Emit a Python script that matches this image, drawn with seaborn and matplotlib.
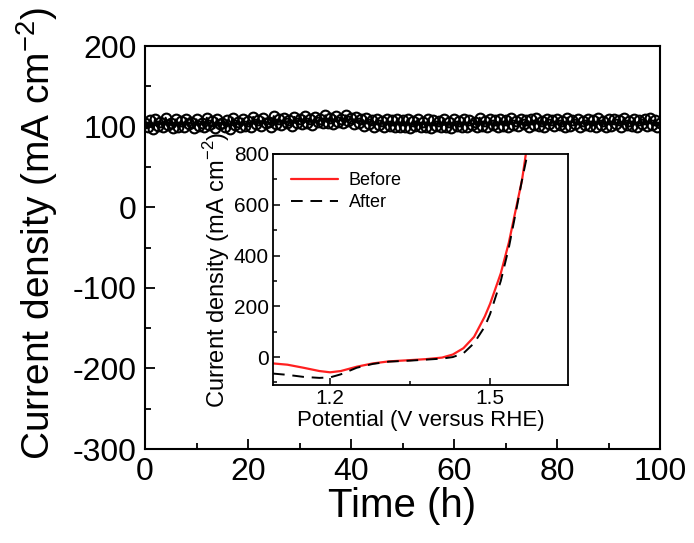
import matplotlib
matplotlib.use("Agg")
import matplotlib.pyplot as plt
import seaborn as sns
import numpy as np
import pandas as pd

# ---- main chronoamperometry data (Time in h every 0.5 h, current density mA cm^-2)
time_h = [i * 0.5 for i in range(201)]
current_main = [
    104, 100, 108, 97, 110, 101, 106, 99, 111, 102, 105, 98, 109, 100, 107, 99, 110, 103, 106, 98,
    109, 101, 104, 99, 111, 102, 107, 98, 110, 103, 105, 100, 108, 97, 111, 102, 106, 99, 110, 101,
    107, 100, 112, 103, 108, 101, 111, 104, 106, 100, 113, 103, 109, 102, 111, 105, 108, 101, 112, 104,
    110, 103, 113, 105, 109, 102, 112, 106, 110, 104, 114, 105, 111, 103, 113, 106, 110, 104, 114, 107,
    111, 103, 112, 104, 109, 101, 111, 103, 108, 100, 110, 102, 107, 99, 109, 101, 108, 100, 110, 99,
    108, 100, 109, 98, 107, 101, 110, 99, 106, 100, 109, 98, 108, 101, 107, 99, 110, 100, 106, 98,
    109, 101, 107, 99, 110, 100, 108, 102, 106, 99, 111, 101, 107, 100, 109, 102, 108, 99, 110, 101,
    108, 100, 111, 102, 107, 101, 110, 103, 108, 100, 109, 102, 111, 101, 107, 100, 110, 103, 108, 101,
    110, 102, 107, 100, 111, 101, 108, 103, 109, 100, 107, 102, 110, 101, 108, 99, 111, 102, 107, 100,
    109, 101, 110, 103, 108, 100, 111, 102, 107, 101, 110, 100, 108, 103, 109, 101, 111, 102, 108, 100, 105,
]

# ---- inset polarization curves
pot_before = [1.093, 1.12, 1.15, 1.18, 1.20, 1.22, 1.25, 1.28, 1.31, 1.35, 1.38,
              1.41, 1.43, 1.45, 1.47, 1.49, 1.50, 1.52, 1.535, 1.55, 1.56, 1.567, 1.572]
cur_before = [-25, -30, -42, -55, -60, -55, -38, -25, -17, -12, -8,
              -2, 10, 35, 80, 160, 210, 330, 450, 600, 700, 800, 860]
pot_after = [1.093, 1.12, 1.15, 1.18, 1.20, 1.22, 1.25, 1.28, 1.31, 1.35, 1.38,
             1.41, 1.43, 1.45, 1.47, 1.49, 1.50, 1.52, 1.535, 1.55, 1.56, 1.57, 1.575]
cur_after = [-65, -70, -78, -82, -80, -68, -42, -27, -18, -14, -10,
             -6, 0, 15, 55, 120, 170, 300, 430, 590, 700, 800, 850]

sns.set_theme(style="ticks")
plt.rcParams['font.family'] = ['Liberation Sans', 'DejaVu Sans']
plt.rcParams['mathtext.fontset'] = 'custom'
plt.rcParams['mathtext.rm'] = 'Liberation Sans'
plt.rcParams['axes.unicode_minus'] = False
plt.rcParams['text.color'] = 'black'
plt.rcParams['axes.labelcolor'] = 'black'
plt.rcParams['xtick.color'] = 'black'
plt.rcParams['ytick.color'] = 'black'
plt.rcParams['xtick.labelcolor'] = 'black'
plt.rcParams['ytick.labelcolor'] = 'black'

fig = plt.figure(figsize=(6.94, 5.43), dpi=100)
ax = fig.add_axes([145/694, 1-449/543, 515/694, 403/543])

df_main = pd.DataFrame({"t": time_h, "j": current_main})
sns.lineplot(data=df_main, x="t", y="j", ax=ax, color="black", lw=1.5,
             marker="o", markersize=7, markerfacecolor="none",
             markeredgecolor="black", markeredgewidth=1.5)

ax.set_xlim(0, 100)
ax.set_ylim(-300, 200)
ax.set_xticks([0, 20, 40, 60, 80, 100])
ax.set_xticks(range(10, 100, 20), minor=True)
ax.set_yticks([-300, -200, -100, 0, 100, 200])
ax.set_yticks([-250, -150, -50, 50, 150], minor=True)
ax.tick_params(which="both", direction="in", color="black", width=1.3)
ax.tick_params(which="major", length=7, labelsize=23, pad=6)
ax.tick_params(which="minor", length=4)
for s in ax.spines.values():
    s.set_linewidth(1.5)
    s.set_color("black")
ax.set_xlabel("Time (h)", fontsize=29, labelpad=0)
ax.set_ylabel("Current density (mA cm$^{-2}$)", fontsize=28)
ax.yaxis.set_label_coords(-0.165, 0.535)

# ---- inset
ins = fig.add_axes([273/694, 1-385/543, 295/694, 231/543])
df_b = pd.DataFrame({"V": pot_before, "j": cur_before, "s": "Before"})
df_a = pd.DataFrame({"V": pot_after, "j": cur_after, "s": "After"})
sns.lineplot(data=df_b, x="V", y="j", ax=ins, color="#ff2020", lw=1.6,
             label="Before", sort=False)
sns.lineplot(data=df_a, x="V", y="j", ax=ins, color="black", lw=1.4,
             linestyle=(0, (6, 4)), label="After", sort=False)
ins.set_xlim(1.093, 1.646)
ins.set_ylim(-110, 800)
ins.set_xticks([1.2, 1.5])
ins.set_xticks([1.35], minor=True)
ins.set_yticks([0, 200, 400, 600, 800])
ins.set_yticks([-100, 100, 300, 500, 700], minor=True)
ins.tick_params(which="both", direction="in", color="black", width=1.1)
ins.tick_params(which="major", length=5, labelsize=15, pad=3)
ins.tick_params(which="minor", length=3)
for s in ins.spines.values():
    s.set_linewidth(1.3)
    s.set_color("black")
ins.set_xlabel("Potential (V versus RHE)", fontsize=16, labelpad=1)
ins.set_ylabel("Current density (mA cm$^{-2}$)", fontsize=17, labelpad=1)
leg = ins.legend(loc="upper left", fontsize=13, frameon=False, handlelength=2.6,
                 borderaxespad=0.6, labelspacing=0.3, handletextpad=0.6)

fig.savefig("out.png", dpi=100)
